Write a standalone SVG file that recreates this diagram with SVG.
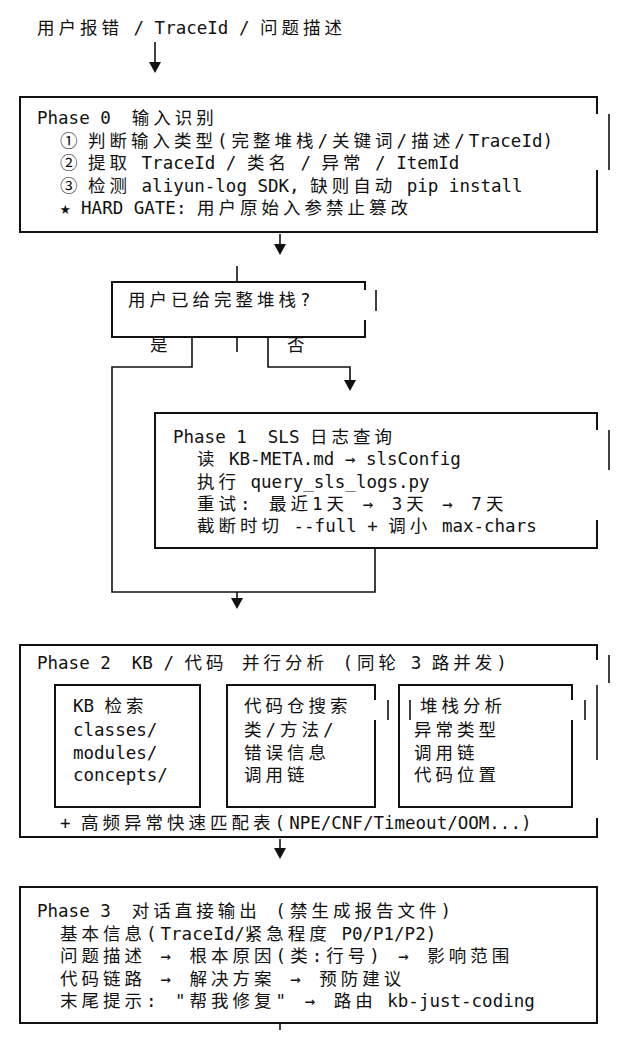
<svg xmlns="http://www.w3.org/2000/svg" width="640" height="1049" viewBox="0 0 640 1049">
<style>
text{font-family:"DejaVu Sans Mono","Liberation Mono","Noto Sans CJK SC",monospace;font-size:17.5px;fill:#111}
.c{letter-spacing:4px}
.b{fill:none;stroke:#111;stroke-width:2}
.l{fill:none;stroke:#111;stroke-width:1.6}
</style>
<defs><marker id="a" markerWidth="12" markerHeight="12" refX="6" refY="4" orient="0" markerUnits="userSpaceOnUse"><path d="M0,0 L12,0 L6,11 z" fill="#111"/></marker></defs>
<rect width="640" height="1049" fill="#fff"/>
<g id="start"><text x="37" y="34"><tspan class="c">用户报错</tspan> / TraceId / <tspan class="c">问题描述</tspan></text></g>
<g id="connectors">
<path class="l" d="M155,42 V66" marker-end="url(#a)"/>
<path class="l" d="M280,234 V248" marker-end="url(#a)"/>
<path class="l" d="M237,266 V282"/>
<path class="l" d="M237,337 V352"/>
<path class="l" d="M192,338 V367 H112 V592 H375 V548"/>
<path class="l" d="M268,338 V367 H350 V384" marker-end="url(#a)"/>
<path class="l" d="M237,592 V602" marker-end="url(#a)"/>
<path class="l" d="M280,839 V852" marker-end="url(#a)"/>
<path class="l" d="M280,1023 V1030"/>
</g>
<g id="phase0">
<path class="b" d="M597,114 V97 H20 V232 H597 V170"/><path class="l" d="M609,114 V170"/>
<text x="37" y="124">Phase 0&#160;&#160;<tspan class="c">输入识别</tspan></text>
<text x="60" y="147">① <tspan class="c">判断输入类型(完整堆栈/关键词/描述/</tspan>TraceId)</text>
<text x="60" y="169">② <tspan class="c">提取</tspan> TraceId / <tspan class="c">类名</tspan> / <tspan class="c">异常</tspan> / ItemId</text>
<text x="60" y="192">③ <tspan class="c">检测</tspan> aliyun-log SDK, <tspan class="c">缺则自动</tspan> pip install</text>
<text x="60" y="214">★ HARD GATE: <tspan class="c">用户原始入参禁止篡改</tspan></text>
</g>
<g id="decision">
<path class="b" d="M365,290 V282 H112 V337 H365 V320"/><path class="l" d="M376,290 V311"/>
<text x="128" y="306" class="c">用户已给完整堆栈?</text>
<text x="150" y="351">是</text><text x="287" y="351">否</text>
</g>
<g id="phase1">
<path class="b" d="M597,430 V413 H155 V548 H597 V520"/><path class="l" d="M609,430 V470"/>
<text x="173" y="443">Phase 1&#160;&#160;SLS <tspan class="c">日志查询</tspan></text>
<text x="197" y="465"><tspan class="c">读</tspan> KB-META.md → slsConfig</text>
<text x="197" y="488"><tspan class="c">执行</tspan> query_sls_logs.py</text>
<text x="197" y="510"><tspan class="c">重试: 最近1天 → 3天 → 7天</tspan></text>
<text x="197" y="532"><tspan class="c">截断时切</tspan> --full + <tspan class="c">调小</tspan> max-chars</text>
</g>
<g id="phase2">
<path class="b" d="M597,660 V645 H20 V837 H597 V818"/><path class="l" d="M609,655 V683"/><path class="l" d="M597,685 V760"/>
<text x="37" y="669">Phase 2&#160;&#160;KB / <tspan class="c">代码 并行分析 (同轮</tspan> 3 <tspan class="c">路并发)</tspan></text>
<g id="kb"><rect class="b" x="55" y="685" width="145" height="122"/>
<text x="73" y="712">KB <tspan class="c">检索</tspan></text><text x="73" y="736">classes/</text><text x="73" y="759">modules/</text><text x="73" y="781">concepts/</text></g>
<g id="code"><path class="b" d="M375,700 V685 H227 V807 H375 V720"/><path class="l" d="M388,700 V720"/>
<text x="244" y="712" class="c">代码仓搜索</text><text x="244" y="736" class="c">类/方法/</text><text x="244" y="759" class="c">错误信息</text><text x="244" y="781" class="c">调用链</text></g>
<g id="stack"><path class="b" d="M572,700 V685 H399 V807 H572 V720"/><path class="l" d="M410,700 V720"/><path class="l" d="M585,700 V720"/>
<text x="420" y="712" class="c">堆栈分析</text><text x="414" y="736" class="c">异常类型</text><text x="414" y="759" class="c">调用链</text><text x="414" y="781" class="c">代码位置</text></g>
<text x="60" y="829">+ <tspan class="c">高频异常快速匹配表(</tspan>NPE/CNF/Timeout/OOM...)</text>
</g>
<g id="phase3">
<path class="b" d="M20,887 H597 V1023 H20 Z"/>
<text x="37" y="917">Phase 3&#160;&#160;<tspan class="c">对话直接输出 (禁生成报告文件)</tspan></text>
<text x="60" y="940"><tspan class="c">基本信息(</tspan>TraceId/<tspan class="c">紧急程度</tspan> P0/P1/P2)</text>
<text x="60" y="962" class="c">问题描述 → 根本原因(类:行号) → 影响范围</text>
<text x="60" y="985" class="c">代码链路 → 解决方案 → 预防建议</text>
<text x="60" y="1007"><tspan class="c">末尾提示: "帮我修复" → 路由</tspan> kb-just-coding</text>
</g>
</svg>
